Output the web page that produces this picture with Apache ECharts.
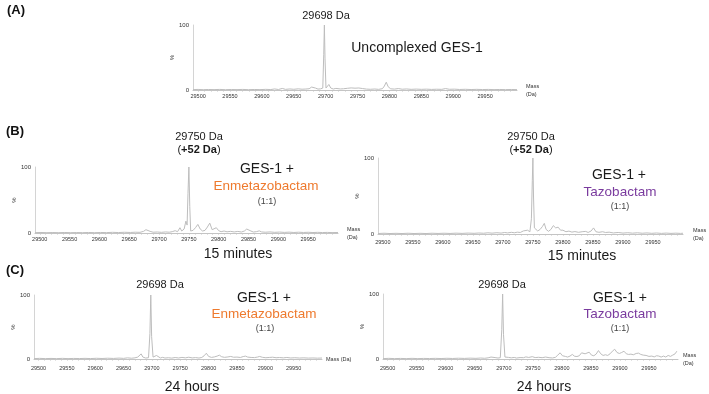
<!DOCTYPE html>
<html>
<head>
<meta charset="utf-8">
<script src="https://cdn.jsdelivr.net/npm/echarts@6/dist/echarts.min.js"></script>
<style>
  html, body { margin: 0; padding: 0; background: #fff; }
  #chart { width: 709px; height: 394px; }
</style>
</head>
<body>
<div id="chart"></div>
<script>
// deconvoluted mass spectra of GES-1
// tick labels
const massTicks = [29500, 29550, 29600, 29650, 29700, 29750, 29800, 29850, 29900, 29950];
const pctTicks = [0, 100];
const massRange = [29492, 30000];

// [mass (Da), relative intensity (%)]
const uncomplexed = [
  [29492, 0.6], [29500, 0.9], [29508, 0.5], [29516, 0.8], [29525, 0.6], [29534, 0.9], [29543, 0.5],
  [29552, 0.8], [29561, 0.6], [29570, 0.9], [29579, 0.5], [29588, 0.8], [29597, 0.6], [29606, 1.0],
  [29614, 0.7], [29620, 1.6], [29626, 0.8], [29632, 2.4], [29637, 1.0], [29644, 1.6], [29650, 1.1],
  [29657, 1.8], [29663, 1.2], [29669, 1.5], [29674, 1.9], [29678, 4.5], [29681, 7.5], [29684, 3.0],
  [29688, 1.4], [29692, 1.8], [29695.5, 3], [29697, 55], [29698, 100], [29699, 48], [29700.5, 3],
  [29703, 2.5], [29705, 8.5], [29708, 3.0], [29712, 1.5], [29716, 2.5], [29719, 3.5], [29723, 1.6],
  [29728, 1.9], [29734, 2.6], [29740, 3.2], [29746, 2.8], [29752, 3.1], [29758, 2.2], [29764, 1.4],
  [29770, 1.1], [29777, 1.5], [29783, 1.0], [29789, 2.0], [29792, 6], [29795, 12], [29798, 5],
  [29802, 1.8], [29808, 1.4], [29814, 2.2], [29820, 1.2], [29827, 1.6], [29834, 1.0], [29842, 1.4],
  [29850, 1.0], [29858, 1.3], [29866, 0.9], [29874, 1.2], [29882, 1.0], [29888, 2.2], [29894, 1.1],
  [29902, 1.3], [29910, 0.8], [29919, 1.1], [29928, 0.7], [29937, 1.0], [29946, 0.7], [29955, 0.9],
  [29964, 0.6], [29973, 0.8], [29982, 0.6], [29991, 0.8], [30000, 0.6]
];

const enmeta15 = [
  [29492, 0.5], [29502, 0.8], [29512, 0.5], [29522, 0.7], [29532, 0.5], [29542, 0.8], [29552, 0.5],
  [29562, 0.7], [29572, 0.5], [29582, 0.8], [29592, 0.5], [29602, 0.8], [29612, 0.6], [29622, 1.0],
  [29632, 0.7], [29642, 1.1], [29652, 0.8], [29660, 1.2], [29668, 1.0], [29674, 2.5], [29678, 5],
  [29681, 7], [29685, 2.5], [29690, 1.2], [29697, 1.5], [29704, 1.0], [29711, 1.6], [29717, 1.2],
  [29722, 2.0], [29727, 3.5], [29731, 2.0], [29735, 8], [29738, 3], [29742, 6], [29745, 18],
  [29747, 12], [29748.5, 60], [29750, 100], [29751.5, 40], [29753, 3], [29757, 4], [29761, 8],
  [29765, 13], [29769, 6], [29773, 3], [29777, 4], [29781, 9], [29785, 15], [29789, 5], [29792, 4],
  [29796, 8], [29800, 3.5], [29804, 2], [29809, 3], [29814, 1.8], [29820, 2.5], [29826, 1.6],
  [29832, 2.4], [29838, 1.5], [29843, 3], [29847, 6], [29850, 9], [29854, 3], [29858, 1.5],
  [29863, 2], [29868, 3.2], [29872, 1.6], [29878, 1.2], [29886, 1.6], [29894, 1.0], [29902, 1.4],
  [29910, 0.9], [29918, 1.3], [29926, 0.8], [29934, 1.2], [29942, 0.8], [29950, 1.1], [29958, 0.7],
  [29966, 1.0], [29974, 0.7], [29982, 0.9], [29990, 0.6], [30000, 0.8]
];

const tazo15 = [
  [29492, 0.6], [29502, 1.0], [29512, 0.6], [29522, 0.9], [29532, 0.6], [29542, 1.0], [29552, 0.6],
  [29562, 0.9], [29572, 0.6], [29582, 1.0], [29592, 0.7], [29602, 1.0], [29612, 0.7], [29622, 1.1],
  [29632, 0.8], [29642, 1.2], [29652, 0.9], [29660, 1.3], [29668, 1.0], [29675, 1.6], [29682, 1.1],
  [29690, 1.7], [29697, 1.2], [29703, 2.0], [29708, 1.4], [29714, 2.2], [29719, 1.6], [29724, 2.4],
  [29729, 2.0], [29734, 4], [29737, 2.5], [29741, 5], [29745, 3], [29747.5, 20], [29749, 70],
  [29750, 100], [29751, 50], [29752.5, 8], [29755, 7], [29758, 4], [29762, 6], [29766, 10],
  [29769, 14], [29772, 6], [29776, 3.5], [29780, 6], [29784, 11], [29788, 8], [29792, 9], [29796, 5],
  [29800, 5], [29805, 3], [29810, 3.8], [29815, 2.5], [29820, 3.2], [29826, 2.2], [29832, 3.0],
  [29838, 3.4], [29842, 2.0], [29847, 4], [29851, 8], [29855, 3], [29860, 2.2], [29866, 3.0],
  [29871, 2.0], [29877, 2.4], [29884, 1.4], [29892, 2.0], [29900, 1.2], [29908, 1.7], [29916, 1.1],
  [29924, 1.6], [29932, 1.0], [29940, 1.4], [29948, 0.9], [29956, 1.3], [29964, 0.8], [29972, 1.2],
  [29980, 0.8], [29988, 1.1], [29996, 0.8], [30000, 1.0]
];

const enmeta24 = [
  [29492, 0.6], [29502, 1.0], [29512, 0.6], [29522, 0.9], [29532, 0.6], [29542, 1.0], [29552, 0.6],
  [29562, 0.9], [29572, 0.7], [29582, 1.0], [29592, 0.7], [29602, 1.1], [29612, 0.8], [29622, 1.2],
  [29632, 0.9], [29642, 1.4], [29650, 1.0], [29657, 1.8], [29664, 1.2], [29670, 1.8], [29675, 3],
  [29678, 6], [29681, 8], [29684, 3], [29689, 1.5], [29694, 2], [29696.5, 40], [29698, 100],
  [29699.5, 35], [29702, 3], [29705, 3.5], [29708, 5.5], [29711, 2.5], [29715, 1.6], [29719, 2.6],
  [29723, 1.5], [29729, 2.0], [29735, 1.4], [29741, 2.3], [29747, 1.6], [29753, 2.5], [29759, 1.8],
  [29765, 2.8], [29771, 1.7], [29777, 2.2], [29783, 1.5], [29788, 2.4], [29792, 5], [29796, 9],
  [29800, 4], [29805, 2.5], [29810, 3.2], [29815, 4.5], [29819, 6], [29823, 3.5], [29828, 2.6],
  [29834, 3.2], [29839, 4], [29844, 2.8], [29850, 3], [29856, 2.4], [29861, 3.8], [29865, 4.5],
  [29869, 3], [29875, 2.4], [29881, 2.2], [29886, 3], [29890, 4], [29895, 2.6], [29901, 2.0],
  [29907, 2.4], [29913, 2.8], [29919, 2.0], [29925, 2.3], [29932, 1.8], [29938, 2.4], [29945, 1.6],
  [29952, 2.0], [29960, 1.5], [29968, 1.8], [29976, 1.4], [29984, 1.6], [29992, 1.3], [30000, 1.5]
];

const tazo24 = [
  [29492, 0.6], [29502, 1.0], [29512, 0.6], [29522, 0.9], [29532, 0.6], [29542, 1.0], [29552, 0.6],
  [29562, 0.9], [29572, 0.7], [29582, 1.0], [29592, 0.7], [29602, 1.1], [29612, 0.8], [29622, 1.2],
  [29632, 0.9], [29642, 1.3], [29652, 1.0], [29660, 1.5], [29667, 1.1], [29673, 1.8], [29678, 3],
  [29681, 4.5], [29685, 2.2], [29690, 1.5], [29694, 2], [29696.5, 45], [29698, 100], [29699.5, 38],
  [29702, 3], [29705, 4], [29708, 2.5], [29713, 1.8], [29718, 2.4], [29722, 1.5], [29728, 2.2],
  [29734, 2.0], [29738, 3.2], [29743, 2.4], [29749, 3.6], [29754, 2.2], [29760, 2.6], [29766, 2.0],
  [29772, 3.0], [29778, 2.0], [29784, 1.6], [29789, 2.6], [29793, 6], [29797, 9.5], [29801, 5],
  [29806, 4], [29810, 3], [29814, 4.5], [29818, 7], [29822, 4.2], [29826, 3.8], [29830, 5],
  [29834, 9.5], [29837, 6.5], [29840, 8], [29843, 5.5], [29847, 10.5], [29851, 6], [29855, 5],
  [29859, 7.5], [29863, 13], [29867, 8], [29871, 5.5], [29875, 6.5], [29879, 5.5], [29883, 8],
  [29887, 12], [29891, 15], [29895, 10], [29899, 8.5], [29903, 10], [29907, 12], [29911, 8],
  [29915, 7], [29919, 7.5], [29923, 6.5], [29928, 8.5], [29932, 9], [29936, 7], [29940, 6],
  [29945, 5.5], [29950, 4], [29955, 4.5], [29959, 3.2], [29963, 5], [29967, 4.5], [29971, 3],
  [29975, 4.5], [29979, 3], [29983, 5.5], [29987, 4], [29991, 6], [29995, 8], [29998, 12]
];

// small dotted-looking ticks along the mass axis
const minorTicks = [];
for (let m = 29500; m < 30000; m += 10) minorTicks.push(m);

const FONT = 'Liberation Sans, Arial, Helvetica, sans-serif';
const ORANGE = '#EE7A2E';
const PURPLE = '#7A3B9E';
const LINE = '#bdbdbd';

// panel layout (pixels)
const panels = [
  { spec: uncomplexed, left: 193, top: 25, width: 324, height: 65, massName: 'Mass\n(Da)', nameGap: 9, nameDy: 0, pctGap: 10, labMargin: 3 },
  { spec: enmeta15, left: 35, top: 167, width: 303, height: 66, massName: 'Mass\n(Da)', nameGap: 9, nameDy: 5, pctGap: 15, labMargin: 3 },
  { spec: tazo15, left: 378, top: 158, width: 305, height: 76, massName: 'Mass\n(Da)', nameGap: 10, nameDy: 5, pctGap: 8, labMargin: 5 },
  { spec: enmeta24, left: 34, top: 295, width: 288, height: 64, massName: 'Mass (Da)', nameGap: 4, nameDy: 5, pctGap: 10, labMargin: 6 },
  { spec: tazo24, left: 383, top: 294, width: 295, height: 65, massName: 'Mass\n(Da)', nameGap: 5, nameDy: 1, pctGap: 11, labMargin: 6 }
];

function txt(x, y, text, size, color, weight) {
  return {
    type: 'text', x: x, y: y, silent: true,
    style: {
      text: text, fill: color || '#1a1a1a', fontSize: size, fontFamily: FONT,
      fontWeight: weight || 'normal',
      align: 'center', verticalAlign: 'middle',
      textAlign: 'center', textVerticalAlign: 'middle'
    }
  };
}

function shift(x, y) {
  return {
    type: 'text', x: x, y: y, silent: true,
    style: {
      text: '{n|(}{b|+52 Da}{n|)}',
      fontSize: 11, fontFamily: FONT, fill: '#1a1a1a',
      align: 'center', verticalAlign: 'middle',
      textAlign: 'center', textVerticalAlign: 'middle',
      rich: {
        n: { fontSize: 11, fontFamily: FONT, fill: '#1a1a1a', color: '#1a1a1a' },
        b: { fontSize: 11, fontFamily: FONT, fill: '#1a1a1a', color: '#1a1a1a', fontWeight: 'bold' }
      }
    }
  };
}

const chart = echarts.init(document.getElementById('chart'), null, { renderer: 'canvas' });

const option = {
  animation: false,
  backgroundColor: '#fff',
  grid: panels.map(p => ({
    left: p.left, top: p.top, width: p.width, height: p.height,
    containLabel: false, outerBoundsMode: 'none'
  })),
  xAxis: panels.map((p, i) => ({
    type: 'value', gridIndex: i,
    min: massRange[0], max: massRange[1],
    axisLine: { show: true, onZero: false, lineStyle: { color: '#c4c4c4', width: 1 } },
    axisTick: { show: true, customValues: minorTicks, length: 1.5, lineStyle: { color: '#c4c4c4', width: 1 } },
    axisLabel: {
      customValues: massTicks, fontSize: 5.5, color: '#333', fontFamily: FONT,
      margin: p.labMargin, hideOverlap: false,
      formatter: v => String(v)
    },
    splitLine: { show: false },
    name: p.massName, nameLocation: 'end', nameGap: p.nameGap,
    nameTextStyle: {
      fontSize: 5.5, color: '#333', fontFamily: FONT, lineHeight: 8,
      padding: [p.nameDy * 2, 0, 0, 0]
    }
  })),
  yAxis: panels.map((p, i) => ({
    type: 'value', gridIndex: i, min: 0, max: 100,
    axisLine: { show: true, lineStyle: { color: '#d4d4d4', width: 1 } },
    axisTick: { show: false },
    axisLabel: {
      customValues: pctTicks, fontSize: 6, color: '#333', fontFamily: FONT, margin: 4,
      formatter: v => String(v)
    },
    splitLine: { show: false },
    name: '%', nameLocation: 'middle', nameGap: p.pctGap, nameRotate: 90,
    nameTextStyle: { fontSize: 6, color: '#333', fontFamily: FONT }
  })),
  series: panels.map((p, i) => ({
    type: 'line', xAxisIndex: i, yAxisIndex: i,
    data: p.spec, showSymbol: false, silent: true,
    lineStyle: { color: LINE, width: 1 }
  })),
  graphic: [
    txt(16, 10, '(A)', 13, '#111', 'bold'),
    txt(15, 131, '(B)', 13, '#111', 'bold'),
    txt(15, 270, '(C)', 13, '#111', 'bold'),

    txt(326, 16, '29698 Da', 11),
    txt(417, 48, 'Uncomplexed GES-1', 14),

    txt(199, 137, '29750 Da', 11),
    shift(199, 150),
    txt(267, 169, 'GES-1 +', 14),
    txt(266, 186, 'Enmetazobactam', 13.5, ORANGE),
    txt(267, 201.5, '(1:1)', 9, '#444'),
    txt(238, 254, '15 minutes', 14),

    txt(531, 137, '29750 Da', 11),
    shift(531, 150),
    txt(619, 175, 'GES-1 +', 14),
    txt(620, 192, 'Tazobactam', 13.5, PURPLE),
    txt(620, 207, '(1:1)', 9, '#444'),
    txt(582, 256, '15 minutes', 14),

    txt(160, 285, '29698 Da', 11),
    txt(264, 298, 'GES-1 +', 14),
    txt(264, 314, 'Enmetazobactam', 13.5, ORANGE),
    txt(265, 329, '(1:1)', 9, '#444'),
    txt(192, 387, '24 hours', 14),

    txt(502, 285, '29698 Da', 11),
    txt(620, 298, 'GES-1 +', 14),
    txt(620, 314, 'Tazobactam', 13.5, PURPLE),
    txt(620, 328.5, '(1:1)', 9, '#444'),
    txt(544, 387, '24 hours', 14)
  ]
};

chart.setOption(option);
</script>
</body>
</html>
